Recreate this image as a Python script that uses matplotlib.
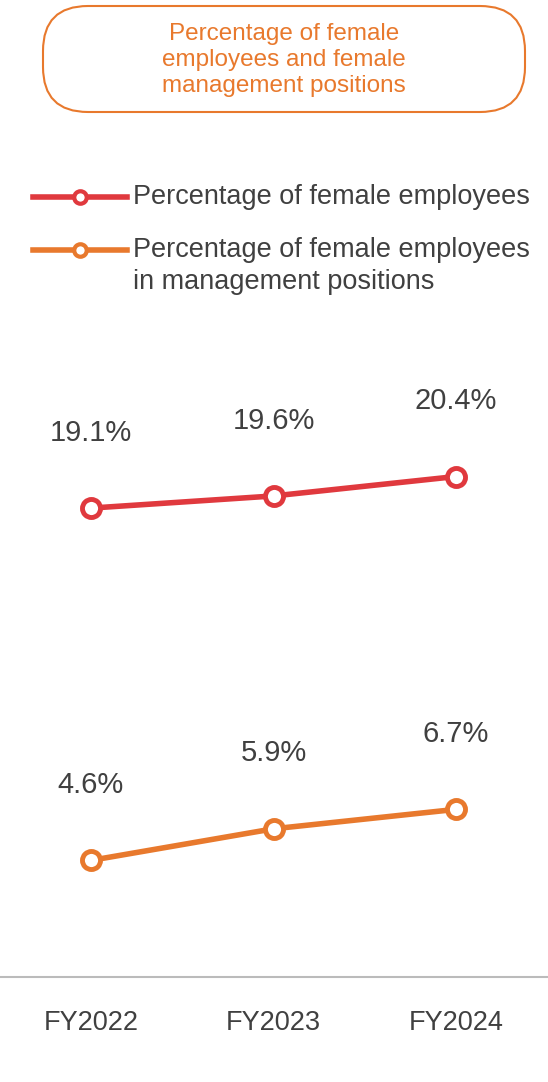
import matplotlib.pyplot as plt
from matplotlib.patches import FancyBboxPatch
from matplotlib.lines import Line2D

years = ['FY2022', 'FY2023', 'FY2024']
female_employees = [19.1, 19.6, 20.4]
female_managers = [4.6, 5.9, 6.7]

red = '#e0393e'
orange = '#e8792d'
text_col = '#404040'
plt.rcParams['font.family'] = ['Liberation Sans', 'DejaVu Sans']

fig = plt.figure(figsize=(5.48, 10.82), dpi=100)
ax = fig.add_axes([0, 105 / 1082, 1, 690 / 1082])
x = range(len(years))
for vals, col in [(female_employees, red), (female_managers, orange)]:
    ax.plot(x, vals, color=col, lw=4, marker='o', ms=13, mfc='white', mew=3.5, zorder=3)
    for i, v in enumerate(vals):
        ax.text(i, v + 3.1, f'{v}%', ha='center', va='center', fontsize=21, color=text_col)
ax.set_xlim(-0.4986, 2.504)
ax.set_ylim(-0.2, 28.2)
for s in ['top', 'left', 'right']:
    ax.spines[s].set_visible(False)
ax.spines['bottom'].set_color('#bbbbbb')
ax.spines['bottom'].set_linewidth(1.5)
ax.set_yticks([])
ax.set_xticks(list(x))
ax.set_xticklabels(years, fontsize=19.5, color=text_col)
ax.tick_params(axis='x', length=0, pad=24)

# overlay in pixel coordinates for title box and legend
ov = fig.add_axes([0, 0, 1, 1], zorder=5)
ov.set_xlim(0, 548)
ov.set_ylim(1082, 0)
ov.axis('off')
ov.patch.set_alpha(0)
ov.add_patch(FancyBboxPatch((43, 6), 482, 106, boxstyle='round,pad=0,rounding_size=45',
                            fc='white', ec=orange, lw=1.5))
ov.text(284, 60, 'Percentage of female\nemployees and female\nmanagement positions',
        ha='center', va='center', fontsize=17.5, color=orange, linespacing=1.25)

for ypx, col, label in [(197, red, 'Percentage of female employees'),
                        (250, orange, 'Percentage of female employees')]:
    ov.add_line(Line2D([33, 127], [ypx, ypx], color=col, lw=4))
    ov.add_line(Line2D([80], [ypx], color=col, marker='o', ms=9, mfc='white', mew=3))
    ov.text(133, ypx, label, ha='left', va='center', fontsize=19.5, color=text_col)
ov.text(133, 282, 'in management positions', ha='left', va='center', fontsize=19.5, color=text_col)

fig.savefig('out.png', dpi=100)
